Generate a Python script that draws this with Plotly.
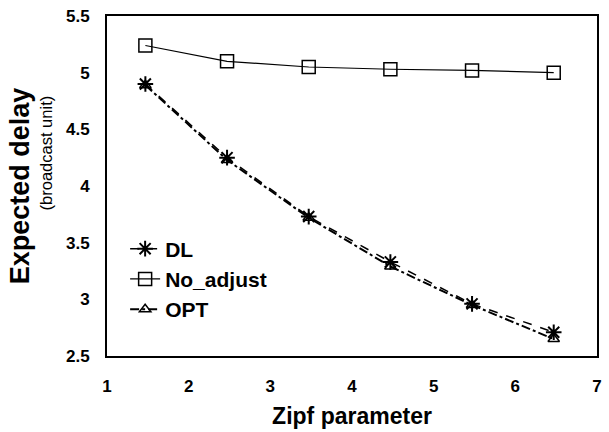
import plotly.graph_objects as go

zipf = [1.47, 2.47, 3.47, 4.47, 5.47, 6.47]
dl = [4.90, 4.25, 3.73, 3.33, 2.96, 2.71]
no_adjust = [5.24, 5.10, 5.05, 5.03, 5.02, 5.00]
opt = [4.89, 4.23, 3.72, 3.29, 2.95, 2.65]
x_ticks = [1, 2, 3, 4, 5, 6, 7]
x_labels = ["1", "2", "3", "4", "5", "6", "7"]
y_ticks = [2.5, 3, 3.5, 4, 4.5, 5, 5.5]
y_labels = ["2.5", "3", "3.5", "4", "4.5", "5", "5.5"]

FONT = "Liberation Sans, Arial, sans-serif"

fig = go.Figure()
fig.add_trace(go.Scatter(
    x=zipf, y=dl, name="<b>DL</b>", mode="lines+markers", legendgroup="a",
    line=dict(color="black", width=1.5, dash="dash"),
    marker=dict(symbol="asterisk-open", size=13, color="black", line=dict(width=2, color="black")),
))
fig.add_trace(go.Scatter(
    x=zipf, y=no_adjust, name="<b>No_adjust</b>", mode="lines+markers", legendgroup="b",
    line=dict(color="black", width=1.2),
    marker=dict(symbol="square-open", size=13, color="black", line=dict(width=1.5, color="black")),
))
fig.add_trace(go.Scatter(
    x=zipf, y=opt, name="<b>OPT</b>", mode="lines+markers", legendgroup="c",
    line=dict(color="black", width=2, dash="dashdot"),
    marker=dict(symbol="triangle-up-open", size=10, color="black", line=dict(width=1.5, color="black")),
))

fig.add_annotation(
    text="(broadcast unit)", xref="paper", yref="paper",
    x=-0.125, y=0.598, xanchor="center", yanchor="middle",
    textangle=-90, showarrow=False,
    font=dict(size=16.5, family=FONT, color="black"),
)

fig.update_layout(
    width=609, height=432,
    margin=dict(l=107, r=7, t=14, b=75),
    paper_bgcolor="white", plot_bgcolor="white",
    font=dict(family=FONT, color="black"),
    showlegend=True,
    legend=dict(
        x=0.037, y=0.375, xanchor="left", yanchor="top",
        bgcolor="rgba(0,0,0,0)",
        font=dict(size=21, family=FONT, color="black"),
        tracegroupgap=0, itemwidth=30,
    ),
    xaxis=dict(
        range=[1, 7], tickvals=x_ticks, ticktext=["<b>%s</b>" % t for t in x_labels],
        showgrid=False, zeroline=False,
        showline=True, linecolor="black", linewidth=2, mirror=True,
        ticks="", ticklabelstandoff=14,
        tickfont=dict(size=17, family=FONT),
        title=dict(text="<b>Zipf parameter</b>", font=dict(size=23, family=FONT), standoff=12),
    ),
    yaxis=dict(
        range=[2.5, 5.5], tickvals=y_ticks, ticktext=["<b>%s</b>" % t for t in y_labels],
        showgrid=False, zeroline=False,
        showline=True, linecolor="black", linewidth=2, mirror=True,
        ticks="", ticklabelstandoff=12,
        tickfont=dict(size=17, family=FONT),
        title=dict(text="<b>Expected delay</b>", font=dict(size=27, family=FONT), standoff=29),
    ),
)

fig.write_html("out.html")
